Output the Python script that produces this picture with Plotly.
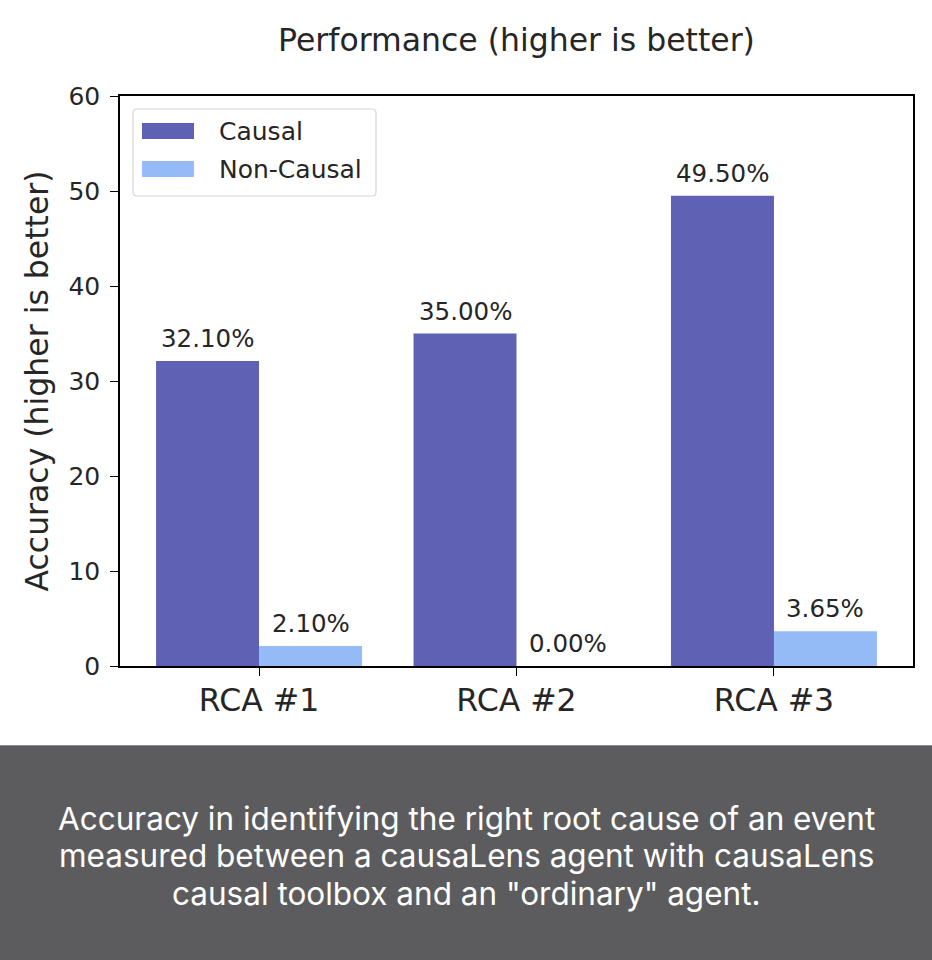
import plotly.graph_objects as go

categories = ["RCA #1", "RCA #2", "RCA #3"]
causal = [32.10, 35.00, 49.50]
non_causal = [2.10, 0.00, 3.65]
series_names = ["Causal", "Non-Causal"]
y_ticks = [0, 10, 20, 30, 40, 50, 60]
title_text = "Performance (higher is better)"
y_label = "Accuracy (higher is better)"
caption_lines = [
    "Accuracy in identifying the right root cause of an event",
    "measured between a causaLens agent with causaLens",
    "causal toolbox and an \"ordinary\" agent.",
]

W, H = 932, 960
C_CAUSAL = "#5f61b5"
C_NON = "#94bbf6"
FONT = "DejaVu Sans, Verdana, sans-serif"
TXT = "#262626"

xpos = list(range(len(categories)))

fig = go.Figure()
fig.add_trace(go.Bar(x=xpos, y=causal, name=series_names[0], marker=dict(color=C_CAUSAL, line=dict(width=0)), showlegend=False))
fig.add_trace(go.Bar(x=xpos, y=non_causal, name=series_names[1], marker=dict(color=C_NON, line=dict(width=0)), showlegend=False))

# value labels
for i in xpos:
    for off, vals in ((-0.2, causal), (0.2, non_causal)):
        fig.add_annotation(x=i + off, y=vals[i], xref="x", yref="y", text=f"{vals[i]:.2f}%",
                           showarrow=False, yanchor="bottom", xanchor="center", yshift=6,
                           font=dict(family=FONT, size=24.5, color=TXT))

# plot area geometry (pixels)
L, R, T, B = 120, 913, 96, 666
dom_x = [L / W, R / W]
dom_y = [1 - B / H, 1 - T / H]

def px(x):
    return x / W

def py(y):
    return 1 - y / H

shapes = []
# bottom caption band
shapes.append(dict(type="rect", xref="paper", yref="paper", x0=0, x1=1, y0=0, y1=py(745),
                   fillcolor="#5c5c5e", line=dict(width=0), layer="below"))
shapes.append(dict(type="line", xref="paper", yref="paper", x0=0, x1=1, y0=py(745.5), y1=py(745.5),
                   line=dict(color="#8a8a8c", width=1)))
# manual legend box
lx0, lx1, ly0, ly1 = 133, 376, 109, 196
r = 4
path = (f"M {px(lx0+r)},{py(ly0)} L {px(lx1-r)},{py(ly0)} Q {px(lx1)},{py(ly0)} {px(lx1)},{py(ly0+r)} "
        f"L {px(lx1)},{py(ly1-r)} Q {px(lx1)},{py(ly1)} {px(lx1-r)},{py(ly1)} "
        f"L {px(lx0+r)},{py(ly1)} Q {px(lx0)},{py(ly1)} {px(lx0)},{py(ly1-r)} "
        f"L {px(lx0)},{py(ly0+r)} Q {px(lx0)},{py(ly0)} {px(lx0+r)},{py(ly0)} Z")
shapes.append(dict(type="path", xref="paper", yref="paper", path=path,
                   fillcolor="rgba(255,255,255,0.8)", line=dict(color="#d6d6d6", width=1.2)))
legend_rows = [(series_names[0], C_CAUSAL, 131), (series_names[1], C_NON, 169)]
for name, col, cy in legend_rows:
    shapes.append(dict(type="rect", xref="paper", yref="paper", x0=px(142), x1=px(194),
                       y0=py(cy + 8), y1=py(cy - 8), fillcolor=col, line=dict(width=0)))
    fig.add_annotation(x=px(217), y=py(cy), xref="paper", yref="paper", text=name, showarrow=False,
                       xanchor="left", yanchor="middle", font=dict(family=FONT, size=25, color=TXT))

# caption
for line, cy in zip(caption_lines, [818, 855, 893]):
    fig.add_annotation(x=0.5, y=py(cy), xref="paper", yref="paper", text=line, showarrow=False,
                       xanchor="center", yanchor="middle", align="center",
                       font=dict(family="Inter, sans-serif", size=31.5, color="#ffffff"))

fig.update_layout(
    width=W, height=H,
    margin=dict(l=0, r=0, t=0, b=0),
    paper_bgcolor="white", plot_bgcolor="white",
    barmode="group", bargap=0.2, bargroupgap=0,
    shapes=shapes,
    title=dict(text=title_text, x=(L + R) / 2 / W, xanchor="center", y=1 - 40 / H, yanchor="middle",
               xref="paper", yref="container", font=dict(family=FONT, size=31.5, color=TXT)),
    xaxis=dict(domain=dom_x, range=[-0.54, 2.54], tickmode="array", tickvals=xpos, ticktext=categories,
               showline=True, linecolor="black", linewidth=1.6, mirror=True, ticks="outside",
               ticklen=8, tickwidth=1.4, tickcolor="black", showgrid=False, zeroline=False,
               ticklabelstandoff=-3,
               automargin=False, tickfont=dict(family=FONT, size=31.5, color=TXT)),
    yaxis=dict(domain=dom_y, range=[0, 60], tickmode="array", tickvals=y_ticks,
               showline=True, linecolor="black", linewidth=1.6, mirror=True, ticks="outside",
               ticklen=8, tickwidth=1.4, tickcolor="black", showgrid=False, zeroline=False,
               ticklabelstandoff=5,
               automargin=False, tickfont=dict(family=FONT, size=25, color=TXT),
               title=dict(text=y_label, font=dict(family=FONT, size=31.5, color=TXT), standoff=10)),
)

fig.write_html("out.html")
